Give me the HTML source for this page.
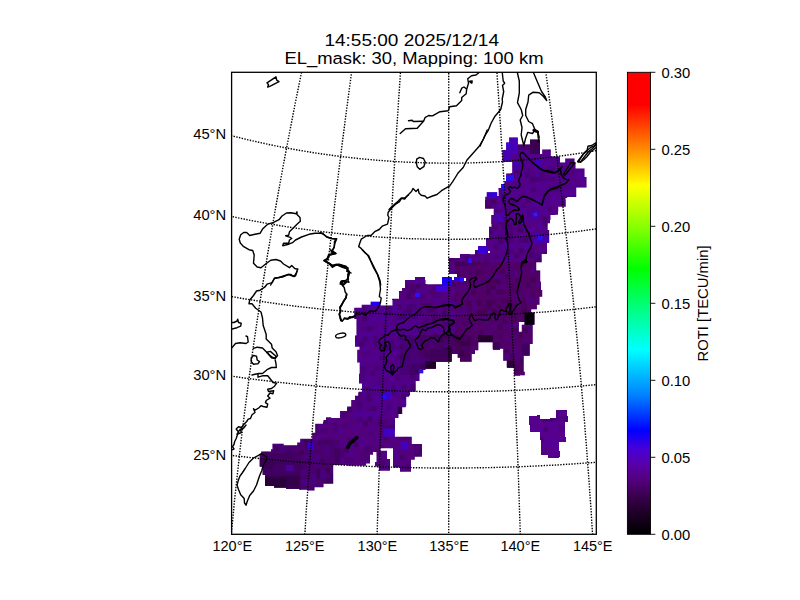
<!DOCTYPE html>
<html><head><meta charset="utf-8"><title>ROTI map</title>
<style>
html,body{margin:0;padding:0;background:#fff;}
body{width:800px;height:600px;overflow:hidden;font-family:"Liberation Sans",sans-serif;}
svg{display:block;}
text{font-family:"Liberation Sans",sans-serif;fill:#000;}
</style></head><body>
<svg width="800" height="600" viewBox="0 0 800 600">
<defs>
<clipPath id="ax"><rect x="231.6" y="72.3" width="364.69999999999993" height="461.99999999999994"/></clipPath>
<linearGradient id="cb" x1="0" y1="1" x2="0" y2="0">
<stop offset="0.000" stop-color="#000000"/>
<stop offset="0.040" stop-color="#1a0022"/>
<stop offset="0.080" stop-color="#38004a"/>
<stop offset="0.115" stop-color="#52007a"/>
<stop offset="0.150" stop-color="#5800a8"/>
<stop offset="0.185" stop-color="#4800d8"/>
<stop offset="0.225" stop-color="#0000ff"/>
<stop offset="0.300" stop-color="#0080ff"/>
<stop offset="0.400" stop-color="#00ffff"/>
<stop offset="0.500" stop-color="#00ff70"/>
<stop offset="0.575" stop-color="#00ff00"/>
<stop offset="0.660" stop-color="#80ff00"/>
<stop offset="0.755" stop-color="#ffff00"/>
<stop offset="0.830" stop-color="#ff9000"/>
<stop offset="0.930" stop-color="#ff0000"/>
<stop offset="1.000" stop-color="#ff0000"/>
</linearGradient>
</defs>
<rect width="800" height="600" fill="#fff"/>
<g clip-path="url(#ax)">
<g id="region"><clipPath id="rg"><path clip-rule="evenodd" d="M370.7,301.7 370.7,304.7 361.7,304.7 361.7,307.7 354.2,307.7 354.2,319.0 356.5,319.0 356.5,335.5 355.0,335.5 355.0,346.7 355.2,346.7 355.2,346.7 359.5,346.7 359.5,349.7 357.2,349.7 357.2,354.2 357.2,354.2 357.2,362.5 359.7,362.5 359.7,373.7 359.0,373.7 359.0,383.5 362.0,383.5 362.0,391.8 358.7,391.8 358.7,392.5 358.2,392.5 358.2,395.7 355.0,395.7 355.0,400.0 351.2,400.0 351.2,406.5 347.2,406.5 347.2,407.5 347.0,407.5 347.0,411.0 340.0,411.0 340.0,418.0 331.2,418.0 331.2,417.2 326.0,417.2 326.0,420.0 323.5,420.0 323.5,421.7 323.0,421.7 323.0,423.7 315.2,423.7 315.2,424.7 315.2,424.7 315.2,430.0 315.2,430.0 315.2,432.7 312.2,432.7 312.2,438.7 300.2,438.7 300.2,442.5 297.2,442.5 297.2,445.2 283.7,445.2 283.7,443.7 272.5,443.7 272.5,449.2 271.0,449.2 271.0,451.5 261.2,451.5 261.2,453.7 259.7,453.7 259.7,466.5 262.7,466.5 262.7,474.7 265.0,474.7 265.0,486.0 274.0,486.0 274.0,487.5 286.0,487.5 286.0,488.7 299.5,488.7 299.5,489.7 307.7,489.7 307.7,490.5 314.5,490.5 314.5,487.2 323.5,487.2 323.5,483.7 333.2,483.7 333.2,465.0 347.5,465.0 347.5,465.7 348.2,465.7 348.2,465.7 365.5,465.7 365.5,465.7 365.5,465.7 365.5,465.5 366.0,465.5 366.0,463.5 370.0,463.5 370.0,462.8 370.0,462.8 370.0,454.8 373.0,454.8 373.0,452.0 376.5,452.0 376.5,462.0 375.0,462.0 375.0,466.5 379.0,466.5 379.0,470.8 390.0,470.8 390.0,459.0 387.0,459.0 387.0,450.8 380.5,450.8 380.5,448.2 393.0,448.2 393.0,467.5 400.0,467.5 400.0,471.8 411.0,471.8 411.0,459.8 414.8,459.8 414.8,456.8 422.0,456.8 422.0,444.0 411.8,444.0 411.8,436.8 394.8,436.8 394.8,430.0 395.0,430.0 395.0,418.0 398.0,418.0 398.0,417.7 398.5,417.7 398.5,414.0 402.2,414.0 402.2,407.2 405.7,407.2 405.7,406.5 406.0,406.5 406.0,406.0 406.2,406.0 406.2,396.7 409.0,396.7 409.0,395.5 410.0,395.5 410.0,391.8 415.7,391.8 415.7,381.0 419.5,381.0 419.5,373.2 423.2,373.2 423.2,370.0 425.5,370.0 425.5,368.5 425.5,368.5 425.5,368.7 435.7,368.7 435.7,368.5 436.0,368.5 436.0,361.8 451.7,361.8 451.7,354.0 457.7,354.0 457.7,357.7 460.0,357.7 460.0,361.7 461.2,361.7 461.2,361.8 471.7,361.8 471.7,361.7 471.7,361.7 471.7,354.0 475.0,354.0 475.0,353.7 475.0,353.7 475.0,350.2 478.3,350.2 478.3,349.7 478.3,349.7 478.3,342.3 492.7,342.3 492.7,349.2 493.0,349.2 493.0,349.8 500.0,349.8 500.0,348.7 503.2,348.7 503.2,360.7 506.8,360.7 506.8,367.5 507.2,367.5 507.2,367.7 514.0,367.7 514.0,375.7 520.0,375.7 520.0,375.2 524.8,375.2 524.8,371.7 523.7,371.7 523.7,355.7 529.7,355.7 529.7,344.0 532.7,344.0 532.7,324.8 534.5,324.8 534.5,312.5 531.2,312.5 531.2,309.2 536.9,309.2 536.9,304.7 539.5,304.7 539.5,296.7 542.2,296.7 542.2,290.0 470.0,290.0 470.0,290.0 541.0,290.0 541.0,281.7 540.2,281.7 540.2,270.5 536.2,270.5 536.2,262.2 541.7,262.2 541.7,254.0 547.0,254.0 547.0,242.7 549.2,242.7 549.2,230.0 547.7,230.0 547.7,223.2 550.0,223.2 550.0,220.0 550.5,220.0 550.5,215.0 555.2,215.0 555.2,214.7 558.0,214.7 558.0,211.2 558.2,211.2 558.2,206.7 565.7,206.7 565.7,200.0 565.5,200.0 565.5,198.0 567.2,198.0 567.2,197.0 576.2,197.0 576.2,187.5 586.5,187.5 586.5,177.0 584.5,177.0 584.5,168.5 575.5,168.5 575.5,163.0 574.5,163.0 574.5,158.5 565.2,158.5 565.2,162.5 560.0,162.5 560.0,156.5 550.8,156.5 550.8,149.5 542.2,149.5 542.2,154.0 540.0,154.0 540.0,145.0 540.0,139.5 530.0,139.5 530.0,144.5 517.8,144.5 517.8,137.5 509.2,137.5 509.2,142.5 506.2,142.5 506.2,150.0 502.5,150.0 502.5,161.8 512.2,161.8 512.2,173.0 511.0,173.0 511.0,173.5 506.2,173.5 506.2,176.2 506.2,176.2 506.2,181.0 504.7,181.0 504.7,181.0 504.5,181.0 504.5,184.0 501.0,184.0 501.0,188.0 498.5,188.0 498.5,190.0 498.7,190.0 498.7,196.0 497.2,196.0 497.2,192.2 486.7,192.2 486.7,196.7 485.2,196.7 485.2,200.0 485.2,200.0 485.0,200.0 485.0,208.5 485.2,208.5 485.2,208.7 493.7,208.7 493.7,215.0 491.5,215.0 491.5,215.0 491.2,215.0 491.2,224.0 491.5,224.0 491.5,226.8 489.0,226.8 489.0,238.0 486.0,238.0 486.0,246.0 478.0,246.0 478.0,246.5 478.0,246.5 478.0,250.0 475.0,250.0 475.0,250.2 475.0,250.2 475.0,254.3 470.0,254.3 470.0,254.0 460.0,254.0 460.0,257.7 460.0,258.0 449.0,258.0 448.5,258.0 448.5,260.0 449.0,260.0 449.0,274.0 457.0,274.0 457.0,277.0 454.0,277.0 454.0,280.0 452.0,280.0 452.0,277.0 442.0,277.0 442.0,280.0 442.0,280.0 442.0,284.2 427.0,284.2 427.0,284.0 425.5,284.0 425.5,280.0 425.0,280.0 425.0,277.0 415.0,277.0 415.0,280.0 405.2,280.0 405.0,280.0 405.0,288.0 402.0,288.0 402.0,291.0 399.0,291.0 399.0,298.7 392.5,298.7 392.5,299.0 392.0,299.0 392.0,300.0 392.5,300.0 392.5,305.5 380.5,305.5 380.5,301.7Z M460.0,330.0 460.0,300.0 460.0,300.0 460.0,330.0Z M521.8,331.7 518.9,331.7 518.9,321.9 524.5,321.9 524.5,324.8 521.8,324.8Z M464.0,281.0 464.0,278.0 464.2,278.0 464.2,278.0 466.0,278.0 466.0,278.0 466.0,278.0 466.0,281.0Z M490.0,253.0 488.0,253.0 488.0,251.0 490.0,251.0Z M548.0,455.0 548.0,458.0 559.0,458.0 559.0,457.0 560.0,457.0 560.0,451.0 559.0,451.0 559.0,442.0 566.0,442.0 566.0,437.0 565.0,437.0 565.0,422.0 568.0,422.0 568.0,416.0 567.0,416.0 567.0,410.0 556.0,410.0 556.0,418.0 550.0,418.0 550.0,419.0 540.0,419.0 540.0,415.0 537.0,415.0 537.0,416.0 529.0,416.0 529.0,425.0 530.0,425.0 530.0,432.0 540.0,432.0 540.0,440.0 541.0,440.0 541.0,455.0Z"/></clipPath>
<path fill="#52007c" fill-rule="evenodd" d="M370.7,301.7 370.7,304.7 361.7,304.7 361.7,307.7 354.2,307.7 354.2,319.0 356.5,319.0 356.5,335.5 355.0,335.5 355.0,346.7 355.2,346.7 355.2,346.7 359.5,346.7 359.5,349.7 357.2,349.7 357.2,354.2 357.2,354.2 357.2,362.5 359.7,362.5 359.7,373.7 359.0,373.7 359.0,383.5 362.0,383.5 362.0,391.8 358.7,391.8 358.7,392.5 358.2,392.5 358.2,395.7 355.0,395.7 355.0,400.0 351.2,400.0 351.2,406.5 347.2,406.5 347.2,407.5 347.0,407.5 347.0,411.0 340.0,411.0 340.0,418.0 331.2,418.0 331.2,417.2 326.0,417.2 326.0,420.0 323.5,420.0 323.5,421.7 323.0,421.7 323.0,423.7 315.2,423.7 315.2,424.7 315.2,424.7 315.2,430.0 315.2,430.0 315.2,432.7 312.2,432.7 312.2,438.7 300.2,438.7 300.2,442.5 297.2,442.5 297.2,445.2 283.7,445.2 283.7,443.7 272.5,443.7 272.5,449.2 271.0,449.2 271.0,451.5 261.2,451.5 261.2,453.7 259.7,453.7 259.7,466.5 262.7,466.5 262.7,474.7 265.0,474.7 265.0,486.0 274.0,486.0 274.0,487.5 286.0,487.5 286.0,488.7 299.5,488.7 299.5,489.7 307.7,489.7 307.7,490.5 314.5,490.5 314.5,487.2 323.5,487.2 323.5,483.7 333.2,483.7 333.2,465.0 347.5,465.0 347.5,465.7 348.2,465.7 348.2,465.7 365.5,465.7 365.5,465.7 365.5,465.7 365.5,465.5 366.0,465.5 366.0,463.5 370.0,463.5 370.0,462.8 370.0,462.8 370.0,454.8 373.0,454.8 373.0,452.0 376.5,452.0 376.5,462.0 375.0,462.0 375.0,466.5 379.0,466.5 379.0,470.8 390.0,470.8 390.0,459.0 387.0,459.0 387.0,450.8 380.5,450.8 380.5,448.2 393.0,448.2 393.0,467.5 400.0,467.5 400.0,471.8 411.0,471.8 411.0,459.8 414.8,459.8 414.8,456.8 422.0,456.8 422.0,444.0 411.8,444.0 411.8,436.8 394.8,436.8 394.8,430.0 395.0,430.0 395.0,418.0 398.0,418.0 398.0,417.7 398.5,417.7 398.5,414.0 402.2,414.0 402.2,407.2 405.7,407.2 405.7,406.5 406.0,406.5 406.0,406.0 406.2,406.0 406.2,396.7 409.0,396.7 409.0,395.5 410.0,395.5 410.0,391.8 415.7,391.8 415.7,381.0 419.5,381.0 419.5,373.2 423.2,373.2 423.2,370.0 425.5,370.0 425.5,368.5 425.5,368.5 425.5,368.7 435.7,368.7 435.7,368.5 436.0,368.5 436.0,361.8 451.7,361.8 451.7,354.0 457.7,354.0 457.7,357.7 460.0,357.7 460.0,361.7 461.2,361.7 461.2,361.8 471.7,361.8 471.7,361.7 471.7,361.7 471.7,354.0 475.0,354.0 475.0,353.7 475.0,353.7 475.0,350.2 478.3,350.2 478.3,349.7 478.3,349.7 478.3,342.3 492.7,342.3 492.7,349.2 493.0,349.2 493.0,349.8 500.0,349.8 500.0,348.7 503.2,348.7 503.2,360.7 506.8,360.7 506.8,367.5 507.2,367.5 507.2,367.7 514.0,367.7 514.0,375.7 520.0,375.7 520.0,375.2 524.8,375.2 524.8,371.7 523.7,371.7 523.7,355.7 529.7,355.7 529.7,344.0 532.7,344.0 532.7,324.8 534.5,324.8 534.5,312.5 531.2,312.5 531.2,309.2 536.9,309.2 536.9,304.7 539.5,304.7 539.5,296.7 542.2,296.7 542.2,290.0 470.0,290.0 470.0,290.0 541.0,290.0 541.0,281.7 540.2,281.7 540.2,270.5 536.2,270.5 536.2,262.2 541.7,262.2 541.7,254.0 547.0,254.0 547.0,242.7 549.2,242.7 549.2,230.0 547.7,230.0 547.7,223.2 550.0,223.2 550.0,220.0 550.5,220.0 550.5,215.0 555.2,215.0 555.2,214.7 558.0,214.7 558.0,211.2 558.2,211.2 558.2,206.7 565.7,206.7 565.7,200.0 565.5,200.0 565.5,198.0 567.2,198.0 567.2,197.0 576.2,197.0 576.2,187.5 586.5,187.5 586.5,177.0 584.5,177.0 584.5,168.5 575.5,168.5 575.5,163.0 574.5,163.0 574.5,158.5 565.2,158.5 565.2,162.5 560.0,162.5 560.0,156.5 550.8,156.5 550.8,149.5 542.2,149.5 542.2,154.0 540.0,154.0 540.0,145.0 540.0,139.5 530.0,139.5 530.0,144.5 517.8,144.5 517.8,137.5 509.2,137.5 509.2,142.5 506.2,142.5 506.2,150.0 502.5,150.0 502.5,161.8 512.2,161.8 512.2,173.0 511.0,173.0 511.0,173.5 506.2,173.5 506.2,176.2 506.2,176.2 506.2,181.0 504.7,181.0 504.7,181.0 504.5,181.0 504.5,184.0 501.0,184.0 501.0,188.0 498.5,188.0 498.5,190.0 498.7,190.0 498.7,196.0 497.2,196.0 497.2,192.2 486.7,192.2 486.7,196.7 485.2,196.7 485.2,200.0 485.2,200.0 485.0,200.0 485.0,208.5 485.2,208.5 485.2,208.7 493.7,208.7 493.7,215.0 491.5,215.0 491.5,215.0 491.2,215.0 491.2,224.0 491.5,224.0 491.5,226.8 489.0,226.8 489.0,238.0 486.0,238.0 486.0,246.0 478.0,246.0 478.0,246.5 478.0,246.5 478.0,250.0 475.0,250.0 475.0,250.2 475.0,250.2 475.0,254.3 470.0,254.3 470.0,254.0 460.0,254.0 460.0,257.7 460.0,258.0 449.0,258.0 448.5,258.0 448.5,260.0 449.0,260.0 449.0,274.0 457.0,274.0 457.0,277.0 454.0,277.0 454.0,280.0 452.0,280.0 452.0,277.0 442.0,277.0 442.0,280.0 442.0,280.0 442.0,284.2 427.0,284.2 427.0,284.0 425.5,284.0 425.5,280.0 425.0,280.0 425.0,277.0 415.0,277.0 415.0,280.0 405.2,280.0 405.0,280.0 405.0,288.0 402.0,288.0 402.0,291.0 399.0,291.0 399.0,298.7 392.5,298.7 392.5,299.0 392.0,299.0 392.0,300.0 392.5,300.0 392.5,305.5 380.5,305.5 380.5,301.7Z M460.0,330.0 460.0,300.0 460.0,300.0 460.0,330.0Z M521.8,331.7 518.9,331.7 518.9,321.9 524.5,321.9 524.5,324.8 521.8,324.8Z M464.0,281.0 464.0,278.0 464.2,278.0 464.2,278.0 466.0,278.0 466.0,278.0 466.0,278.0 466.0,281.0Z M490.0,253.0 488.0,253.0 488.0,251.0 490.0,251.0Z M548.0,455.0 548.0,458.0 559.0,458.0 559.0,457.0 560.0,457.0 560.0,451.0 559.0,451.0 559.0,442.0 566.0,442.0 566.0,437.0 565.0,437.0 565.0,422.0 568.0,422.0 568.0,416.0 567.0,416.0 567.0,410.0 556.0,410.0 556.0,418.0 550.0,418.0 550.0,419.0 540.0,419.0 540.0,415.0 537.0,415.0 537.0,416.0 529.0,416.0 529.0,425.0 530.0,425.0 530.0,432.0 540.0,432.0 540.0,440.0 541.0,440.0 541.0,455.0Z"/>
<pattern id="nz" width="80" height="80" patternUnits="userSpaceOnUse" patternTransform="rotate(-3)"><rect x="0" y="0" width="5" height="5" fill="#4000e0" fill-opacity="0.06"/><rect x="0" y="10" width="5" height="5" fill="#000" fill-opacity="0.12"/><rect x="0" y="15" width="5" height="5" fill="#4000e0" fill-opacity="0.05"/><rect x="0" y="20" width="5" height="5" fill="#4000e0" fill-opacity="0.05"/><rect x="0" y="25" width="5" height="5" fill="#4000e0" fill-opacity="0.05"/><rect x="0" y="30" width="5" height="5" fill="#000" fill-opacity="0.11"/><rect x="0" y="40" width="5" height="5" fill="#000" fill-opacity="0.08"/><rect x="0" y="60" width="5" height="5" fill="#4000e0" fill-opacity="0.18"/><rect x="0" y="65" width="5" height="5" fill="#000" fill-opacity="0.16"/><rect x="0" y="70" width="5" height="5" fill="#4000e0" fill-opacity="0.06"/><rect x="0" y="75" width="5" height="5" fill="#000" fill-opacity="0.09"/><rect x="5" y="5" width="5" height="5" fill="#000" fill-opacity="0.13"/><rect x="5" y="15" width="5" height="5" fill="#4000e0" fill-opacity="0.12"/><rect x="5" y="20" width="5" height="5" fill="#000" fill-opacity="0.06"/><rect x="5" y="25" width="5" height="5" fill="#000" fill-opacity="0.14"/><rect x="5" y="30" width="5" height="5" fill="#4000e0" fill-opacity="0.08"/><rect x="5" y="40" width="5" height="5" fill="#4000e0" fill-opacity="0.08"/><rect x="5" y="55" width="5" height="5" fill="#000" fill-opacity="0.12"/><rect x="5" y="60" width="5" height="5" fill="#4000e0" fill-opacity="0.16"/><rect x="5" y="70" width="5" height="5" fill="#4000e0" fill-opacity="0.18"/><rect x="5" y="75" width="5" height="5" fill="#000" fill-opacity="0.10"/><rect x="10" y="5" width="5" height="5" fill="#000" fill-opacity="0.11"/><rect x="10" y="10" width="5" height="5" fill="#000" fill-opacity="0.14"/><rect x="10" y="30" width="5" height="5" fill="#4000e0" fill-opacity="0.14"/><rect x="10" y="45" width="5" height="5" fill="#4000e0" fill-opacity="0.16"/><rect x="10" y="55" width="5" height="5" fill="#4000e0" fill-opacity="0.13"/><rect x="10" y="60" width="5" height="5" fill="#000" fill-opacity="0.14"/><rect x="15" y="0" width="5" height="5" fill="#4000e0" fill-opacity="0.09"/><rect x="15" y="10" width="5" height="5" fill="#000" fill-opacity="0.11"/><rect x="15" y="15" width="5" height="5" fill="#000" fill-opacity="0.07"/><rect x="15" y="20" width="5" height="5" fill="#000" fill-opacity="0.15"/><rect x="15" y="25" width="5" height="5" fill="#000" fill-opacity="0.08"/><rect x="15" y="30" width="5" height="5" fill="#4000e0" fill-opacity="0.16"/><rect x="15" y="35" width="5" height="5" fill="#000" fill-opacity="0.11"/><rect x="15" y="40" width="5" height="5" fill="#4000e0" fill-opacity="0.16"/><rect x="15" y="55" width="5" height="5" fill="#4000e0" fill-opacity="0.10"/><rect x="15" y="60" width="5" height="5" fill="#4000e0" fill-opacity="0.16"/><rect x="15" y="70" width="5" height="5" fill="#000" fill-opacity="0.07"/><rect x="15" y="75" width="5" height="5" fill="#000" fill-opacity="0.08"/><rect x="20" y="0" width="5" height="5" fill="#4000e0" fill-opacity="0.12"/><rect x="20" y="5" width="5" height="5" fill="#4000e0" fill-opacity="0.04"/><rect x="20" y="10" width="5" height="5" fill="#4000e0" fill-opacity="0.09"/><rect x="20" y="30" width="5" height="5" fill="#4000e0" fill-opacity="0.13"/><rect x="20" y="40" width="5" height="5" fill="#000" fill-opacity="0.17"/><rect x="20" y="60" width="5" height="5" fill="#4000e0" fill-opacity="0.10"/><rect x="20" y="65" width="5" height="5" fill="#000" fill-opacity="0.13"/><rect x="20" y="70" width="5" height="5" fill="#000" fill-opacity="0.06"/><rect x="20" y="75" width="5" height="5" fill="#000" fill-opacity="0.07"/><rect x="25" y="0" width="5" height="5" fill="#4000e0" fill-opacity="0.05"/><rect x="25" y="5" width="5" height="5" fill="#000" fill-opacity="0.07"/><rect x="25" y="10" width="5" height="5" fill="#000" fill-opacity="0.10"/><rect x="25" y="15" width="5" height="5" fill="#000" fill-opacity="0.16"/><rect x="25" y="25" width="5" height="5" fill="#000" fill-opacity="0.08"/><rect x="25" y="30" width="5" height="5" fill="#4000e0" fill-opacity="0.09"/><rect x="25" y="35" width="5" height="5" fill="#000" fill-opacity="0.16"/><rect x="25" y="45" width="5" height="5" fill="#4000e0" fill-opacity="0.11"/><rect x="25" y="50" width="5" height="5" fill="#000" fill-opacity="0.06"/><rect x="25" y="55" width="5" height="5" fill="#4000e0" fill-opacity="0.08"/><rect x="25" y="65" width="5" height="5" fill="#000" fill-opacity="0.05"/><rect x="25" y="75" width="5" height="5" fill="#4000e0" fill-opacity="0.06"/><rect x="30" y="0" width="5" height="5" fill="#4000e0" fill-opacity="0.04"/><rect x="30" y="5" width="5" height="5" fill="#4000e0" fill-opacity="0.18"/><rect x="30" y="20" width="5" height="5" fill="#4000e0" fill-opacity="0.09"/><rect x="30" y="25" width="5" height="5" fill="#000" fill-opacity="0.15"/><rect x="30" y="30" width="5" height="5" fill="#4000e0" fill-opacity="0.15"/><rect x="30" y="35" width="5" height="5" fill="#4000e0" fill-opacity="0.07"/><rect x="30" y="70" width="5" height="5" fill="#000" fill-opacity="0.12"/><rect x="30" y="75" width="5" height="5" fill="#4000e0" fill-opacity="0.04"/><rect x="35" y="0" width="5" height="5" fill="#000" fill-opacity="0.09"/><rect x="35" y="5" width="5" height="5" fill="#4000e0" fill-opacity="0.14"/><rect x="35" y="15" width="5" height="5" fill="#4000e0" fill-opacity="0.17"/><rect x="35" y="30" width="5" height="5" fill="#4000e0" fill-opacity="0.07"/><rect x="35" y="35" width="5" height="5" fill="#000" fill-opacity="0.08"/><rect x="35" y="40" width="5" height="5" fill="#000" fill-opacity="0.13"/><rect x="35" y="55" width="5" height="5" fill="#4000e0" fill-opacity="0.13"/><rect x="35" y="65" width="5" height="5" fill="#000" fill-opacity="0.14"/><rect x="40" y="5" width="5" height="5" fill="#4000e0" fill-opacity="0.06"/><rect x="40" y="15" width="5" height="5" fill="#4000e0" fill-opacity="0.15"/><rect x="40" y="25" width="5" height="5" fill="#4000e0" fill-opacity="0.10"/><rect x="40" y="40" width="5" height="5" fill="#000" fill-opacity="0.07"/><rect x="40" y="45" width="5" height="5" fill="#000" fill-opacity="0.17"/><rect x="40" y="55" width="5" height="5" fill="#000" fill-opacity="0.16"/><rect x="40" y="70" width="5" height="5" fill="#4000e0" fill-opacity="0.12"/><rect x="40" y="75" width="5" height="5" fill="#000" fill-opacity="0.05"/><rect x="45" y="10" width="5" height="5" fill="#4000e0" fill-opacity="0.17"/><rect x="45" y="15" width="5" height="5" fill="#4000e0" fill-opacity="0.16"/><rect x="45" y="25" width="5" height="5" fill="#000" fill-opacity="0.08"/><rect x="45" y="30" width="5" height="5" fill="#4000e0" fill-opacity="0.07"/><rect x="45" y="40" width="5" height="5" fill="#4000e0" fill-opacity="0.10"/><rect x="45" y="45" width="5" height="5" fill="#000" fill-opacity="0.17"/><rect x="45" y="50" width="5" height="5" fill="#4000e0" fill-opacity="0.10"/><rect x="45" y="65" width="5" height="5" fill="#4000e0" fill-opacity="0.17"/><rect x="45" y="70" width="5" height="5" fill="#4000e0" fill-opacity="0.11"/><rect x="45" y="75" width="5" height="5" fill="#4000e0" fill-opacity="0.04"/><rect x="50" y="0" width="5" height="5" fill="#4000e0" fill-opacity="0.07"/><rect x="50" y="5" width="5" height="5" fill="#000" fill-opacity="0.15"/><rect x="50" y="10" width="5" height="5" fill="#000" fill-opacity="0.11"/><rect x="50" y="25" width="5" height="5" fill="#4000e0" fill-opacity="0.11"/><rect x="50" y="40" width="5" height="5" fill="#000" fill-opacity="0.12"/><rect x="50" y="45" width="5" height="5" fill="#000" fill-opacity="0.09"/><rect x="50" y="55" width="5" height="5" fill="#4000e0" fill-opacity="0.12"/><rect x="50" y="70" width="5" height="5" fill="#4000e0" fill-opacity="0.13"/><rect x="50" y="75" width="5" height="5" fill="#4000e0" fill-opacity="0.11"/><rect x="55" y="5" width="5" height="5" fill="#4000e0" fill-opacity="0.11"/><rect x="55" y="10" width="5" height="5" fill="#4000e0" fill-opacity="0.17"/><rect x="55" y="30" width="5" height="5" fill="#4000e0" fill-opacity="0.12"/><rect x="55" y="45" width="5" height="5" fill="#000" fill-opacity="0.07"/><rect x="55" y="50" width="5" height="5" fill="#4000e0" fill-opacity="0.05"/><rect x="55" y="55" width="5" height="5" fill="#000" fill-opacity="0.06"/><rect x="55" y="75" width="5" height="5" fill="#000" fill-opacity="0.14"/><rect x="60" y="5" width="5" height="5" fill="#000" fill-opacity="0.16"/><rect x="60" y="15" width="5" height="5" fill="#000" fill-opacity="0.17"/><rect x="60" y="20" width="5" height="5" fill="#4000e0" fill-opacity="0.11"/><rect x="60" y="35" width="5" height="5" fill="#000" fill-opacity="0.11"/><rect x="60" y="40" width="5" height="5" fill="#4000e0" fill-opacity="0.09"/><rect x="60" y="45" width="5" height="5" fill="#000" fill-opacity="0.09"/><rect x="60" y="55" width="5" height="5" fill="#000" fill-opacity="0.12"/><rect x="60" y="60" width="5" height="5" fill="#4000e0" fill-opacity="0.04"/><rect x="60" y="65" width="5" height="5" fill="#4000e0" fill-opacity="0.13"/><rect x="60" y="70" width="5" height="5" fill="#4000e0" fill-opacity="0.05"/><rect x="65" y="10" width="5" height="5" fill="#000" fill-opacity="0.08"/><rect x="65" y="15" width="5" height="5" fill="#000" fill-opacity="0.15"/><rect x="65" y="20" width="5" height="5" fill="#4000e0" fill-opacity="0.06"/><rect x="65" y="25" width="5" height="5" fill="#4000e0" fill-opacity="0.17"/><rect x="65" y="35" width="5" height="5" fill="#4000e0" fill-opacity="0.06"/><rect x="65" y="55" width="5" height="5" fill="#000" fill-opacity="0.06"/><rect x="65" y="65" width="5" height="5" fill="#4000e0" fill-opacity="0.05"/><rect x="70" y="5" width="5" height="5" fill="#000" fill-opacity="0.16"/><rect x="70" y="10" width="5" height="5" fill="#000" fill-opacity="0.16"/><rect x="70" y="15" width="5" height="5" fill="#4000e0" fill-opacity="0.09"/><rect x="70" y="30" width="5" height="5" fill="#4000e0" fill-opacity="0.06"/><rect x="70" y="35" width="5" height="5" fill="#4000e0" fill-opacity="0.07"/><rect x="70" y="40" width="5" height="5" fill="#000" fill-opacity="0.07"/><rect x="70" y="45" width="5" height="5" fill="#000" fill-opacity="0.08"/><rect x="70" y="50" width="5" height="5" fill="#4000e0" fill-opacity="0.08"/><rect x="70" y="60" width="5" height="5" fill="#4000e0" fill-opacity="0.11"/><rect x="70" y="65" width="5" height="5" fill="#000" fill-opacity="0.10"/><rect x="70" y="70" width="5" height="5" fill="#000" fill-opacity="0.08"/><rect x="70" y="75" width="5" height="5" fill="#000" fill-opacity="0.15"/><rect x="75" y="5" width="5" height="5" fill="#000" fill-opacity="0.11"/><rect x="75" y="15" width="5" height="5" fill="#000" fill-opacity="0.16"/><rect x="75" y="20" width="5" height="5" fill="#4000e0" fill-opacity="0.11"/><rect x="75" y="30" width="5" height="5" fill="#4000e0" fill-opacity="0.11"/><rect x="75" y="45" width="5" height="5" fill="#4000e0" fill-opacity="0.16"/><rect x="75" y="60" width="5" height="5" fill="#4000e0" fill-opacity="0.09"/><rect x="75" y="65" width="5" height="5" fill="#000" fill-opacity="0.07"/><rect x="75" y="70" width="5" height="5" fill="#000" fill-opacity="0.15"/><rect x="75" y="75" width="5" height="5" fill="#4000e0" fill-opacity="0.06"/></pattern>
<g clip-path="url(#rg)">
<rect x="526.0" y="406.0" width="46.0" height="56.0" fill="#6200b0" fill-opacity="0.30"/>
<rect x="455.0" y="262.0" width="90.0" height="118.0" fill="#50003c" fill-opacity="0.30"/>
<rect x="400.0" y="335.0" width="70.0" height="40.0" fill="#30002c" fill-opacity="0.28"/>
<rect x="355.0" y="300.0" width="65.0" height="120.0" fill="#5000c8" fill-opacity="0.14"/>
<rect x="497.0" y="138.0" width="93.0" height="77.0" fill="#5a00c0" fill-opacity="0.20"/>
<rect x="462.0" y="215.0" width="83.0" height="47.0" fill="#5a00b8" fill-opacity="0.12"/>
<rect x="258.0" y="440.0" width="82.0" height="52.0" fill="#2a0030" fill-opacity="0.20"/>
<rect x="231" y="72" width="365" height="462" fill="url(#nz)"/>
<rect x="524.5" y="312.5" width="10.0" height="12.3" fill="#040006"/>
<rect x="442.0" y="277.0" width="10.0" height="8.0" fill="#1c00f5"/>
<rect x="454.0" y="277.0" width="10.0" height="4.5" fill="#3000d8"/>
<rect x="415.0" y="293.0" width="5.0" height="4.0" fill="#2a10f0"/>
<rect x="502.5" y="150.0" width="9.7" height="11.8" fill="#4500b0"/>
<rect x="506.2" y="142.5" width="11.6" height="10.5" fill="#4600b6"/>
<rect x="509.2" y="137.5" width="8.6" height="7.0" fill="#4800b8"/>
<rect x="506.2" y="142.5" width="3.0" height="2.5" fill="#2a10ff"/>
<rect x="530.0" y="139.5" width="10.0" height="14.5" fill="#3a0052"/>
<rect x="517.8" y="144.5" width="12.2" height="5.5" fill="#470068"/>
<rect x="506.2" y="176.2" width="4.8" height="4.8" fill="#2400ee"/>
<rect x="511.0" y="173.0" width="3.0" height="7.0" fill="#3a00d0"/>
<rect x="501.0" y="184.0" width="3.5" height="5.0" fill="#1a10ff"/>
<rect x="513.0" y="162.0" width="7.0" height="8.0" fill="#4400a8"/>
<rect x="536.0" y="159.0" width="6.0" height="11.0" fill="#4200b8"/>
<rect x="487.0" y="192.2" width="10.0" height="4.3" fill="#2a00e8"/>
<rect x="501.0" y="184.0" width="3.5" height="4.5" fill="#2010f8"/>
<rect x="506.2" y="175.0" width="7.8" height="5.5" fill="#2a10f0"/>
<rect x="534.0" y="212.5" width="3.0" height="4.0" fill="#2800f0"/>
<rect x="530.0" y="209.0" width="10.0" height="11.0" fill="#4a009c"/>
<rect x="478.0" y="246.5" width="9.0" height="7.5" fill="#3a00d8"/>
<rect x="468.2" y="258.5" width="3.7" height="4.5" fill="#2a10ff"/>
<rect x="460.0" y="278.0" width="4.2" height="3.7" fill="#2a10ff"/>
<rect x="533.5" y="212.7" width="3.7" height="3.7" fill="#2a20ff"/>
<rect x="533.5" y="234.5" width="15.7" height="9.0" fill="#4800a8"/>
<rect x="538.0" y="235.2" width="4.5" height="5.2" fill="#2a10f0"/>
<rect x="494.5" y="212.7" width="9.0" height="9.7" fill="#4a00a8"/>
<rect x="370.7" y="301.7" width="9.7" height="3.7" fill="#1c00f5"/>
<rect x="415.0" y="292.7" width="5.2" height="4.5" fill="#2a10ff"/>
<rect x="436.0" y="286.0" width="12.0" height="6.0" fill="#4000d0"/>
<rect x="425.5" y="361.0" width="10.5" height="7.5" fill="#1c0028"/>
<rect x="443.5" y="347.5" width="8.2" height="14.2" fill="#300045"/>
<rect x="430.0" y="355.0" width="13.5" height="6.7" fill="#3a0055"/>
<rect x="425.5" y="361.8" width="10.2" height="6.9" fill="#22002e"/>
<rect x="478.0" y="335.2" width="15.0" height="7.0" fill="#2a003a"/>
<rect x="493.0" y="342.3" width="7.0" height="7.5" fill="#3a0052"/>
<rect x="506.8" y="360.7" width="7.2" height="6.7" fill="#2a003a"/>
<rect x="448.0" y="346.5" width="3.7" height="15.3" fill="#30003f"/>
<rect x="430.0" y="349.5" width="18.0" height="12.3" fill="#3f005c"/>
<rect x="418.7" y="369.0" width="4.5" height="4.2" fill="#3010e8"/>
<rect x="478.3" y="335.0" width="14.4" height="6.7" fill="#25002f"/>
<rect x="507.2" y="360.5" width="7.0" height="7.2" fill="#2a003a"/>
<rect x="522.2" y="344.0" width="7.5" height="11.7" fill="#3f0060"/>
<rect x="386.0" y="391.7" width="6.0" height="7.5" fill="#4000c8"/>
<rect x="382.2" y="394.7" width="3.7" height="4.5" fill="#2010ff"/>
<rect x="385.7" y="391.5" width="6.0" height="7.5" fill="#4000c8"/>
<rect x="382.7" y="394.5" width="3.0" height="4.5" fill="#1a10ff"/>
<rect x="383.5" y="428.2" width="11.2" height="8.5" fill="#4200c0"/>
<rect x="397.7" y="406.8" width="4.0" height="7.2" fill="#2a0038"/>
<rect x="400.7" y="441.0" width="6.7" height="8.2" fill="#4400c0"/>
<rect x="259.7" y="453.7" width="41.2" height="36.7" fill="#410061"/>
<rect x="307.7" y="442.5" width="6.0" height="6.7" fill="#3800d0"/>
<rect x="265.0" y="476.2" width="34.5" height="13.0" fill="#330049"/>
<rect x="265.0" y="478.5" width="21.0" height="9.0" fill="#2a003a"/>
<rect x="259.7" y="459.7" width="14.2" height="9.7" fill="#3a0055"/>
<rect x="286.0" y="465.0" width="7.5" height="6.0" fill="#4a0098"/>
</g></g>
<g id="coast" fill="none" stroke="#000" stroke-width="1.4" stroke-linejoin="round" stroke-linecap="round"><path d="M267.0,82.8 276.0,76.8 276.7,80.2 279.0,81.7 270.3,86.2 267.7,87.0 268.5,84.7Z"/>
<path d="M400.2,133.5 405.5,128.7 417.2,128.2 421.7,123.3 423.8,120.7 425.0,117.7 428.7,115.5 432.5,115.9 440.0,111.7 448.2,110.7 449.7,106.8 456.5,105.7 461.7,100.5 461.7,97.5 466.2,93.7 466.7,89.2 468.5,83.2 467.7,78.7 471.5,75.7 476.0,75.0 479.7,72.0"/>
<path d="M408.5,120.7 412.2,120.3 413.3,121.5 423.5,121.2"/>
<path d="M459.8,92.7 461.7,88.2 464.0,87.0 466.2,88.8"/>
<path d="M469.7,81.3 472.2,81.0 471.8,83.2 470.0,82.2"/>
<path d="M502.2,72.0 503.2,81.0 504.7,83.2 502.5,85.5 503.7,91.5 502.2,99.0 502.5,102.0 500.7,109.5 495.0,116.2 491.2,123.0 488.2,130.5 484.5,136.5 480.0,146.2"/>
<path d="M517.2,72.0 519.3,81.0 519.3,93.0 517.5,102.7 521.2,109.5 522.7,115.5 520.2,120.0 522.0,127.5 521.2,135.0 523.8,145.5 525.7,138.0 527.7,132.4 532.5,133.5 534.0,131.2 537.7,131.7 539.2,137.2 538.2,141.7"/>
<path d="M538.2,138.0 537.7,131.7 534.7,129.0 532.5,123.7 528.7,121.5 525.7,115.5 525.7,109.5 528.0,102.0 528.7,95.2 533.2,92.2 539.2,92.7 543.0,96.0 546.7,100.5 545.2,96.7 541.5,91.5 537.0,81.0 533.2,72.0"/>
<path d="M578.2,162.0 583.5,153.7 587.2,150.0 588.0,146.2 591.7,145.5 596.2,142.5 596.2,144.7 592.5,148.5 588.7,151.5 585.0,156.0 580.5,162.0"/>
<path d="M416.7,159.2 419.7,157.4 423.5,158.5 425.3,162.2 423.8,166.7 419.7,169.3 417.2,166.7 416.3,163.0Z"/>
<path d="M487.2,130.0 483.5,139.0 479.0,146.5 473.0,153.2 467.0,160.0 463.2,167.5 458.3,172.7 455.0,178.0 452.7,181.7 449.7,185.8 441.5,190.7 437.0,194.5 432.5,196.0 427.2,198.2 425.0,196.0 421.2,195.2 419.0,193.0 418.2,189.2 416.0,191.5 413.0,188.5 411.5,191.5 407.0,196.0 404.7,199.0 401.0,198.2 398.0,201.2 392.0,206.5 389.0,209.5"/>
<path d="M297.7,269.2 294.7,268.5 291.7,265.5 289.5,267.7 283.5,264.0 280.5,261.0 276.0,259.5 270.7,260.2 264.7,264.7 261.0,267.7 257.2,267.0 253.5,263.2 254.2,255.0 252.7,250.5 249.0,249.7 243.7,246.7 240.3,243.0 239.2,239.2 240.7,234.7 243.7,232.5 246.7,232.5 249.7,235.5 255.0,234.3 260.2,233.2 262.8,228.7 267.7,224.2 273.7,222.4 279.0,219.7 282.0,216.0 286.5,213.0 291.0,212.7 296.2,213.7 297.0,211.8 297.0,214.5 300.0,217.5 300.3,221.2 297.0,224.2 292.5,228.7 289.5,231.7 288.7,235.2 285.7,235.8 290.2,237.3 291.7,238.5 289.5,240.0 288.7,243.0 283.5,243.3 282.7,245.7 288.7,244.2 292.5,242.7 295.5,240.0 301.5,237.0 309.0,234.3 315.0,233.2 322.5,233.2 327.0,237.0 331.5,238.5 336.7,238.8 334.5,241.5 334.2,246.7 331.8,252.0 336.0,253.5 329.2,255.0 327.0,259.5 324.0,260.7 328.5,263.2 333.0,265.5 336.0,264.3 342.0,267.0 346.5,268.5 348.7,271.5 351.0,273.0"/>
<path d="M297.7,269.2 296.2,273.0 294.0,276.7 291.0,274.5 288.0,274.5 283.5,276.7 279.0,277.5 274.5,278.2 272.2,282.0 270.7,285.0"/>
<path d="M408.5,195.0 404.7,198.0 401.7,198.0 399.5,201.7 395.0,204.7 391.2,208.5 388.2,212.2 387.8,215.2 389.0,217.5 387.5,224.2 382.2,226.2 379.2,229.5 374.7,231.7 371.0,235.5 367.2,235.5 361.2,239.2 359.3,244.5 358.7,246.7 360.5,247.8 365.0,252.7 368.7,255.7 371.0,261.0 374.0,267.0 377.7,274.5 380.0,280.5 380.7,285.0"/>
<path d="M320.0,232.5 323.0,234.0 326.7,237.0 332.0,238.5 336.5,239.2 335.0,243.0 334.2,247.5 331.2,252.0 335.7,253.5 329.7,255.0 327.5,259.5 324.5,260.7 329.0,263.2 332.7,265.5 336.5,264.3 342.5,267.0 347.0,268.5 349.2,271.5 347.7,274.5 348.5,279.0 345.5,280.5 341.0,281.2 340.2,284.2"/>
<path d="M297.0,271.5 295.5,276.0 292.5,276.0 288.7,274.5 283.5,276.0 279.0,277.5 274.5,278.2 272.2,282.7 267.0,284.2 264.7,287.2 260.2,290.2 256.5,291.0 253.5,295.5 249.7,300.0 249.0,303.7 252.0,303.7 255.7,308.2 261.0,312.0 262.5,318.0 263.2,325.5 266.2,334.5 266.2,339.0 271.5,344.2 272.2,348.0 276.0,351.7 277.5,355.5 275.2,358.5 271.5,357.7 267.7,353.2 264.7,350.2 262.5,348.0 257.2,347.2 253.5,348.3"/>
<path d="M266.7,352.2 270.3,351.4 276.0,356.2 274.8,358.5 270.7,356.2Z"/>
<path d="M231.0,322.5 234.0,322.5 237.0,321.0 237.7,319.2 238.5,322.5 241.2,323.2 240.7,326.2 237.0,327.7 234.0,328.5 231.0,329.2"/>
<path d="M231.0,348.7 235.5,343.5 240.0,342.7 246.0,343.5 248.2,342.0 247.5,336.7 246.0,336.0"/>
<path d="M275.2,360.0 276.0,363.7 276.3,367.5 271.5,367.5 267.0,369.7 262.5,373.5 258.7,373.5 255.0,374.2 252.0,375.0"/>
<path d="M258.0,374.2 258.0,377.2 263.2,375.7 267.7,375.7 270.7,379.5 273.0,382.5 276.7,383.2 274.5,386.2 271.5,388.5 267.7,389.2 268.5,391.5 273.7,390.7 273.0,393.7 270.0,393.0 267.7,396.0 270.0,398.2 266.2,400.5 265.5,402.7 267.7,404.2 267.0,407.2 263.2,406.5 261.0,405.7 258.7,408.0 255.0,410.2 253.5,408.7 255.0,412.5 252.0,414.7 250.5,418.5 248.2,419.2 246.7,421.5 243.7,424.5 241.5,427.5 238.5,426.7 236.2,429.0 238.5,432.0 237.0,434.2 239.2,430.5 242.2,429.7"/>
<path d="M251.2,357.7 253.5,355.5 256.5,356.2 257.2,360.0 259.5,361.5 258.0,363.7 253.5,364.2 251.2,361.5Z"/>
<path d="M246.0,425.0 243.7,428.0 240.0,429.5 241.5,432.5 237.7,434.0 236.2,438.5 234.7,441.5 234.0,444.5 232.5,446.7 234.0,449.0 232.5,449.7"/>
<path d="M261.7,453.5 264.7,455.7 267.0,457.2 265.8,461.0 263.2,465.5 261.7,470.7 259.5,476.0 256.5,485.0 253.5,491.0 249.7,495.5 247.2,501.5 246.0,505.2 244.5,503.0 244.2,498.5 240.7,494.7 238.5,489.5 237.0,485.0 238.5,479.7 240.0,476.0 242.2,473.0 245.2,468.5 249.0,462.5 253.5,458.0 258.0,455.7Z"/>
<path d="M362.5,250.0 367.7,255.2 370.7,261.2 373.7,268.0 377.5,274.7 379.7,281.5 380.5,289.0 379.3,296.5 381.2,298.0 380.5,302.5 378.2,307.7 376.0,310.7 373.0,311.5 370.0,310.7 367.7,313.0 365.5,315.2 361.7,313.0 359.5,314.5 356.5,313.7 355.0,316.0 352.7,317.5 349.7,316.7 347.5,319.0 344.5,318.2 342.2,321.2 340.7,320.5 340.0,316.7 339.2,313.7 340.7,310.7 340.0,307.0 342.2,304.0 343.7,301.0 346.0,298.0 346.7,294.2 345.2,292.0 344.2,287.5 342.2,285.2 340.7,283.0 342.2,280.7 345.2,281.5 349.0,282.2 347.5,279.2 348.2,275.5 349.7,272.5 346.7,271.0 348.2,268.0 346.0,266.5 342.2,265.7 338.5,264.2 335.5,265.0 332.5,267.2 330.2,264.2 327.2,262.7 324.2,260.5 327.2,258.2 328.7,254.5 332.5,253.7 335.5,253.0 332.5,250.7 330.2,250.0"/>
<path d="M460.0,306.0 455.5,306.7 451.7,305.2 448.0,304.5 443.5,306.0 439.0,306.7 434.5,307.5 430.0,306.7 425.5,306.7 421.0,308.2 418.0,311.2 415.0,314.2 410.5,316.5 406.7,319.5 403.7,322.5 398.5,324.0 396.7,326.2 396.7,329.2 400.0,330.0 403.7,329.2 407.5,330.7 411.2,329.2 413.5,327.0 415.7,325.5 418.0,327.7 421.0,327.0 424.7,325.5 428.5,324.0 431.5,323.2 434.5,322.5 436.0,321.0 439.0,320.2 443.5,318.7 447.2,318.7 450.2,320.2 453.2,321.0 454.0,322.5 451.7,324.7 449.5,325.5 448.7,329.2 451.0,333.7 454.0,336.7 457.0,338.2 460.0,339.3"/>
<path d="M396.7,329.2 394.0,330.7 391.0,331.5 388.0,335.2 385.0,335.2 382.0,338.2 379.3,339.7 379.0,342.7 381.2,345.0 379.7,348.0 381.2,351.0 385.0,350.2 384.2,348.0 386.5,345.7 385.0,343.5 385.7,342.0 388.7,341.7 390.2,345.0 389.8,349.5 391.0,351.7 388.0,354.7 386.2,357.7 386.8,361.5 385.7,364.5 384.2,366.7 386.2,370.5 389.5,372.0 392.5,375.0 394.7,372.0 397.0,370.5 397.7,368.2 402.2,366.7 403.7,360.0 405.2,354.0 407.5,350.2 409.7,348.0 410.5,345.0 409.3,343.5 408.2,340.5 405.2,339.7 406.0,336.7 403.7,335.2 400.7,336.0 398.5,333.7 397.0,331.5Z"/>
<path d="M392.5,374.2 391.0,370.5 390.7,366.7 392.5,364.5 394.0,366.7 393.2,370.5Z"/>
<path d="M415.0,339.7 418.0,337.5 419.5,335.2 421.0,331.5 422.5,329.2 425.5,330.7 428.5,327.7 431.5,327.7 434.5,326.2 437.5,324.7 441.2,325.5 443.5,327.7 444.2,331.5 445.0,333.7 442.0,335.2 439.7,338.2 438.2,342.0 434.5,338.2 430.7,337.5 428.5,339.7 424.7,341.2 421.7,345.0 423.2,348.0 421.0,349.5 418.3,348.7 417.2,345.0 415.7,342.0Z"/>
<path d="M440.0,306.5 444.5,305.0 449.0,305.7 452.7,305.0 455.0,308.0 458.7,305.7 462.5,304.2 461.7,300.5 464.0,296.7 467.7,292.2 470.0,287.7 470.7,284.0 469.2,281.0 471.5,278.7 476.0,277.2 476.7,278.7 473.7,281.7 473.7,285.5 475.2,287.7 479.0,285.5 483.5,284.0 488.0,281.7 491.7,278.0 494.7,273.5 497.0,269.7 500.0,266.7 502.2,263.0 503.7,260.0"/>
<path d="M527.0,261.8 525.2,260.3 521.7,262.2 521.0,267.5 521.7,272.7 520.2,279.5 518.7,285.5 517.2,291.5 518.0,296.7 519.5,300.5 521.0,302.7 517.2,305.0 515.0,308.0 512.7,311.7 509.7,314.7 508.2,313.2 510.5,310.2 509.7,308.0 511.2,304.2 509.0,303.5 507.5,306.5 506.0,308.7 506.7,311.7 503.7,311.0 501.5,309.5 499.2,311.7 500.0,314.7 497.7,317.0 497.7,319.2 496.2,320.0 494.7,317.7 495.5,314.0 493.2,313.2 491.0,314.7 490.2,317.7 488.0,320.0 483.5,320.0 479.0,319.2 475.2,320.7 473.7,319.2 472.2,316.2 471.5,314.0 470.0,316.2 469.2,319.2 470.7,322.2 472.2,325.2 470.0,327.5 467.0,329.0 464.7,332.0 462.5,335.7 459.5,338.7 455.7,337.2 452.7,335.0 449.0,335.7 446.0,333.5 448.2,330.5 450.5,329.7 449.0,326.7 451.2,324.5 454.2,323.0 453.5,320.0 449.7,320.0 446.0,319.2 443.0,320.0 440.0,319.2"/>
<path d="M503.5,260.0 505.0,257.0 507.2,251.0 508.0,245.0 507.2,240.5 505.0,238.7 508.0,236.7 507.2,231.5 505.7,227.0"/>
<path d="M524.8,225.5 526.0,228.5 529.0,233.7 530.5,239.0 532.0,243.5 530.5,248.0 528.2,251.7 526.7,255.5 526.0,260.0 526.7,262.2 523.0,263.0 521.5,266.0"/>
<path d="M521.0,175.0 519.5,178.0 518.5,181.0 520.0,184.0 519.5,186.5 517.0,188.5 514.5,187.0 512.0,188.0 510.0,186.5 508.5,187.5 509.0,189.5 510.5,191.5 509.0,193.5 506.5,194.5 504.0,196.5 502.8,199.5 503.5,202.0 505.0,205.0 505.5,209.0 506.0,212.5 506.5,215.5 508.5,215.0 510.0,213.0 512.5,211.0 514.5,210.0 517.5,210.5 519.5,209.5 518.0,207.5 516.0,206.0 513.0,205.0 510.5,204.0 509.0,202.5 509.0,200.0 511.0,198.5 513.5,199.0 515.5,200.5 517.0,201.5 520.0,198.5 523.0,196.2 527.0,197.2 532.0,199.5 537.0,202.0 542.0,205.0 543.0,201.0 544.0,196.5 546.5,193.0 550.0,190.0 554.0,188.0 558.0,186.5 560.0,185.5"/>
<path d="M505.5,235.0 506.2,231.0 505.8,227.0 506.5,223.0 508.5,220.0 510.0,218.5 512.0,219.0 513.5,221.5 514.5,224.5 516.5,224.0 516.0,221.0 516.5,217.0 516.0,214.0 518.0,213.5 519.5,215.0 521.0,217.0 520.0,220.0 518.5,222.0 519.5,223.5 521.5,222.0 522.0,219.0 522.5,215.0 523.2,217.0 523.5,221.0 524.0,225.0 526.0,229.0 528.0,232.5 529.5,235.0"/>
<path d="M520.5,153.5 520.0,156.0 521.0,159.0 522.5,162.0 523.0,165.0 522.5,168.0 521.5,171.0 521.0,174.0 521.0,175.0"/>
<path d="M520.5,153.5 522.5,152.2 524.5,154.0 527.0,157.0 530.0,160.0 533.0,163.0 536.0,165.5 539.0,168.0 542.0,170.0 545.0,171.0 548.0,170.5 550.0,171.5 552.0,173.0 555.0,172.5 557.5,171.0 560.0,168.5"/>
<path d="M530.0,160.0 534.0,163.5 539.0,167.5 543.0,170.0 547.0,171.5 550.0,172.5 551.5,171.0 554.5,173.0 558.0,171.5 560.0,169.0 562.0,166.5 560.5,170.0 561.0,174.0 563.0,177.0 564.5,178.5 567.0,180.0 569.0,179.5 567.5,181.5 565.5,183.5 563.0,184.5 560.0,186.0 558.0,187.5 555.0,188.5 551.0,189.0 548.0,191.0 546.0,194.0 544.0,197.0 543.0,201.0 542.0,205.0"/>
<path d="M563.5,174.5 565.5,171.0 568.5,166.5 570.5,162.8 575.0,162.8 572.0,166.5 569.0,170.0 566.5,173.5 564.5,175.5Z"/>
<path d="M577.8,161.5 580.5,157.7 583.5,154.0 586.5,151.3 588.8,149.0 591.0,147.4 594.0,145.8 595.5,144.5"/>
<path d="M596.8,147.0 593.6,149.5 590.8,151.6 588.8,154.2 586.8,156.8 583.8,159.8 580.5,162.2 577.8,161.5"/>
<path stroke-width="2.6" d="M533.7,130.2 537.7,131.7"/>
<path stroke-width="1.8" d="M343.7,301.0 341.8,304.7 340.0,307.7 340.6,311.5 339.4,314.5 340.4,318.2 341.5,320.5"/>
<path stroke-width="2.1" d="M340.7,283.0 343.7,281.2 346.0,282.2 343.3,284.8 341.5,283.3"/>
<path stroke-width="1.7" d="M347.5,279.2 348.7,275.5 349.3,272.5 347.5,271.0"/>
<path stroke-width="1.7" d="M346.7,294.2 345.7,298.0 343.9,300.7"/>
<path stroke-width="1.8" d="M324.2,260.5 328.7,263.2 332.5,266.8 336.2,265.0 340.0,264.7 346.0,266.5"/>
<path stroke-width="1.9" d="M344.5,318.4 348.2,318.7 352.0,317.2 355.0,316.0"/>
<path stroke-width="3.6" d="M347.8,447.3 349.7,443.7 353.5,440.7 356.8,437.7"/>
<ellipse cx="340.7" cy="335.5" rx="5.2" ry="2.2" transform="rotate(-12 340.7 335.5)"/></g>
<g id="grid" fill="none" stroke="#000" stroke-width="1.4" stroke-dasharray="1.39,1.39">
<path d="M35.7,421.3 L43.2,423.1 L50.7,424.7 L58.1,426.4 L65.6,428.0 L73.0,429.6 L80.4,431.1 L87.8,432.6 L95.1,434.1 L102.5,435.5 L109.8,436.9 L117.1,438.3 L124.4,439.6 L131.7,440.9 L139.0,442.1 L146.3,443.4 L153.5,444.5 L160.7,445.7 L167.9,446.8 L175.1,447.9 L182.3,449.0 L189.5,450.0 L196.6,451.0 L203.8,451.9 L210.9,452.9 L218.0,453.8 L225.1,454.7 L232.2,455.5 L239.3,456.3 L246.4,457.1 L253.5,457.9 L260.5,458.6 L267.6,459.3 L274.6,459.9 L281.6,460.6 L288.7,461.2 L295.7,461.8 L302.7,462.4 L309.7,462.9 L316.7,463.4 L323.7,463.9 L330.6,464.3 L337.6,464.8 L344.6,465.2 L351.5,465.5 L358.5,465.9 L365.5,466.2 L372.4,466.5 L379.4,466.8 L386.3,467.0 L393.2,467.2 L400.2,467.4 L407.1,467.6 L414.1,467.7 L421.0,467.8 L427.9,467.9 L434.8,468.0 L441.8,468.0 L448.7,468.0 L455.6,468.0 L462.6,468.0 L469.5,467.9 L476.4,467.8 L483.3,467.7 L490.3,467.6 L497.2,467.4 L504.2,467.2 L511.1,467.0 L518.0,466.8 L525.0,466.5 L531.9,466.2 L538.9,465.9 L545.9,465.5 L552.8,465.2 L559.8,464.8 L566.8,464.3 L573.7,463.9 L580.7,463.4 L587.7,462.9 L594.7,462.4 L601.7,461.8 L608.7,461.2 L615.8,460.6 L622.8,459.9 L629.8,459.3 L636.9,458.6 L643.9,457.9 L651.0,457.1 L658.1,456.3 L665.2,455.5 L672.3,454.7 L679.4,453.8 L686.5,452.9 L693.6,451.9 L700.8,451.0 L707.9,450.0 L715.1,449.0 L722.3,447.9 L729.5,446.8 L736.7,445.7 L743.9,444.5"/>
<path d="M56.7,339.5 L63.7,341.4 L70.7,343.3 L77.7,345.2 L84.7,347.0 L91.7,348.7 L98.6,350.4 L105.6,352.1 L112.5,353.7 L119.4,355.3 L126.3,356.9 L133.2,358.4 L140.1,359.8 L147.0,361.3 L153.9,362.7 L160.7,364.1 L167.6,365.4 L174.4,366.7 L181.2,367.9 L188.0,369.1 L194.8,370.3 L201.6,371.5 L208.4,372.6 L215.2,373.7 L222.0,374.7 L228.7,375.7 L235.5,376.7 L242.2,377.7 L249.0,378.6 L255.7,379.5 L262.4,380.3 L269.1,381.1 L275.8,381.9 L282.5,382.7 L289.2,383.4 L295.9,384.1 L302.6,384.8 L309.3,385.4 L316.0,386.0 L322.6,386.6 L329.3,387.1 L335.9,387.6 L342.6,388.1 L349.3,388.6 L355.9,389.0 L362.5,389.4 L369.2,389.7 L375.8,390.1 L382.5,390.4 L389.1,390.6 L395.7,390.9 L402.3,391.1 L409.0,391.3 L415.6,391.4 L422.2,391.6 L428.8,391.7 L435.5,391.8 L442.1,391.8 L448.7,391.8 L455.3,391.8 L461.9,391.8 L468.6,391.7 L475.2,391.6 L481.8,391.4 L488.4,391.3 L495.1,391.1 L501.7,390.9 L508.3,390.6 L514.9,390.4 L521.6,390.1 L528.2,389.7 L534.9,389.4 L541.5,389.0 L548.1,388.6 L554.8,388.1 L561.5,387.6 L568.1,387.1 L574.8,386.6 L581.4,386.0 L588.1,385.4 L594.8,384.8 L601.5,384.1 L608.2,383.4 L614.9,382.7 L621.6,381.9 L628.3,381.1 L635.0,380.3 L641.7,379.5 L648.4,378.6 L655.2,377.7 L661.9,376.7 L668.7,375.7 L675.4,374.7 L682.2,373.7 L689.0,372.6 L695.8,371.5 L702.6,370.3 L709.4,369.1 L716.2,367.9 L723.0,366.7 L729.8,365.4"/>
<path d="M80.6,259.5 L87.1,261.5 L93.6,263.5 L100.0,265.5 L106.5,267.4 L113.0,269.2 L119.5,271.1 L125.9,272.8 L132.4,274.6 L138.8,276.3 L145.3,277.9 L151.7,279.6 L158.1,281.1 L164.5,282.7 L170.9,284.2 L177.3,285.6 L183.7,287.1 L190.1,288.4 L196.5,289.8 L202.9,291.1 L209.3,292.4 L215.7,293.6 L222.0,294.8 L228.4,296.0 L234.7,297.1 L241.1,298.2 L247.4,299.3 L253.8,300.3 L260.1,301.3 L266.4,302.2 L272.8,303.1 L279.1,304.0 L285.4,304.9 L291.7,305.7 L298.0,306.5 L304.3,307.2 L310.6,307.9 L316.9,308.6 L323.2,309.3 L329.5,309.9 L335.8,310.5 L342.1,311.0 L348.4,311.6 L354.7,312.1 L361.0,312.5 L367.2,312.9 L373.5,313.3 L379.8,313.7 L386.1,314.0 L392.3,314.3 L398.6,314.6 L404.9,314.8 L411.1,315.0 L417.4,315.2 L423.7,315.3 L429.9,315.4 L436.2,315.5 L442.4,315.6 L448.7,315.6 L455.0,315.6 L461.2,315.5 L467.5,315.4 L473.7,315.3 L480.0,315.2 L486.3,315.0 L492.5,314.8 L498.8,314.6 L505.1,314.3 L511.3,314.0 L517.6,313.7 L523.9,313.3 L530.2,312.9 L536.4,312.5 L542.7,312.1 L549.0,311.6 L555.3,311.0 L561.6,310.5 L567.9,309.9 L574.2,309.3 L580.5,308.6 L586.8,307.9 L593.1,307.2 L599.4,306.5 L605.7,305.7 L612.0,304.9 L618.3,304.0 L624.6,303.1 L631.0,302.2 L637.3,301.3 L643.6,300.3 L650.0,299.3 L656.3,298.2 L662.7,297.1 L669.0,296.0 L675.4,294.8 L681.7,293.6 L688.1,292.4 L694.5,291.1 L700.9,289.8 L707.3,288.4 L713.7,287.1"/>
<path d="M107.0,181.2 L113.0,183.3 L118.9,185.4 L124.9,187.4 L130.8,189.3 L136.7,191.2 L142.7,193.1 L148.6,195.0 L154.5,196.7 L160.4,198.5 L166.4,200.2 L172.3,201.9 L178.2,203.5 L184.1,205.1 L190.1,206.7 L196.0,208.2 L201.9,209.6 L207.8,211.1 L213.7,212.5 L219.6,213.8 L225.5,215.2 L231.4,216.4 L237.3,217.7 L243.2,218.9 L249.1,220.1 L255.0,221.2 L260.9,222.3 L266.8,223.4 L272.7,224.4 L278.6,225.4 L284.5,226.4 L290.3,227.3 L296.2,228.2 L302.1,229.0 L308.0,229.8 L313.9,230.6 L319.7,231.4 L325.6,232.1 L331.5,232.8 L337.3,233.4 L343.2,234.0 L349.1,234.6 L355.0,235.1 L360.8,235.7 L366.7,236.1 L372.5,236.6 L378.4,237.0 L384.3,237.4 L390.1,237.7 L396.0,238.0 L401.8,238.3 L407.7,238.6 L413.6,238.8 L419.4,238.9 L425.3,239.1 L431.1,239.2 L437.0,239.3 L442.8,239.3 L448.7,239.4 L454.6,239.3 L460.4,239.3 L466.3,239.2 L472.1,239.1 L478.0,238.9 L483.8,238.8 L489.7,238.6 L495.6,238.3 L501.4,238.0 L507.3,237.7 L513.1,237.4 L519.0,237.0 L524.9,236.6 L530.7,236.1 L536.6,235.7 L542.4,235.1 L548.3,234.6 L554.2,234.0 L560.1,233.4 L565.9,232.8 L571.8,232.1 L577.7,231.4 L583.5,230.6 L589.4,229.8 L595.3,229.0 L601.2,228.2 L607.1,227.3 L612.9,226.4 L618.8,225.4 L624.7,224.4 L630.6,223.4 L636.5,222.3 L642.4,221.2 L648.3,220.1 L654.2,218.9 L660.1,217.7 L666.0,216.4 L671.9,215.2 L677.8,213.8 L683.7,212.5 L689.6,211.1 L695.5,209.6"/>
<path d="M135.7,104.8 L141.1,106.9 L146.4,108.9 L151.8,110.9 L157.2,112.8 L162.6,114.7 L167.9,116.6 L173.3,118.4 L178.7,120.2 L184.1,122.0 L189.4,123.7 L194.8,125.4 L200.2,127.0 L205.6,128.6 L211.0,130.1 L216.4,131.7 L221.8,133.1 L227.2,134.6 L232.6,136.0 L238.0,137.3 L243.4,138.7 L248.8,140.0 L254.2,141.2 L259.5,142.4 L264.9,143.6 L270.3,144.8 L275.8,145.9 L281.2,147.0 L286.6,148.0 L292.0,149.0 L297.4,150.0 L302.8,150.9 L308.2,151.8 L313.6,152.7 L319.0,153.5 L324.4,154.3 L329.8,155.0 L335.2,155.8 L340.6,156.4 L346.0,157.1 L351.4,157.7 L356.8,158.3 L362.2,158.9 L367.6,159.4 L373.0,159.9 L378.4,160.3 L383.8,160.7 L389.2,161.1 L394.6,161.5 L400.1,161.8 L405.5,162.1 L410.9,162.3 L416.3,162.5 L421.7,162.7 L427.1,162.9 L432.5,163.0 L437.9,163.1 L443.3,163.1 L448.7,163.1 L454.1,163.1 L459.5,163.1 L464.9,163.0 L470.3,162.9 L475.7,162.7 L481.1,162.5 L486.5,162.3 L491.9,162.1 L497.3,161.8 L502.8,161.5 L508.2,161.1 L513.6,160.7 L519.0,160.3 L524.4,159.9 L529.8,159.4 L535.2,158.9 L540.6,158.3 L546.0,157.7 L551.4,157.1 L556.8,156.4 L562.2,155.8 L567.6,155.0 L573.0,154.3 L578.4,153.5 L583.8,152.7 L589.2,151.8 L594.6,150.9 L600.0,150.0 L605.4,149.0 L610.8,148.0 L616.2,147.0 L621.6,145.9 L627.1,144.8 L632.5,143.6 L637.9,142.4 L643.2,141.2 L648.6,140.0 L654.0,138.7 L659.4,137.3 L664.8,136.0 L670.2,134.6 L675.6,133.1"/>
<path d="M228.6,565.7 L231.3,534.4 L234.3,503.1 L237.6,471.9 L241.1,440.7 L244.9,409.6 L249.0,378.6 L253.2,347.6 L257.8,316.7 L262.5,285.9 L267.5,255.1 L272.7,224.4 L278.1,193.8 L283.7,163.2 L289.5,132.8 L295.4,102.4 L301.6,72.0 L307.9,41.8"/>
<path d="M302.7,570.8 L304.5,539.9 L306.4,509.1 L308.6,478.3 L310.9,447.5 L313.3,416.7 L316.0,386.0 L318.8,355.3 L321.7,324.6 L324.8,294.0 L328.1,263.3 L331.5,232.8 L335.0,202.2 L338.7,171.7 L342.5,141.2 L346.5,110.7 L350.5,80.3 L354.7,49.9"/>
<path d="M375.9,573.8 L376.8,543.2 L377.8,512.6 L378.8,482.0 L379.9,451.5 L381.2,420.9 L382.5,390.4 L383.8,359.8 L385.3,329.3 L386.8,298.8 L388.4,268.2 L390.1,237.7 L391.9,207.2 L393.7,176.7 L395.6,146.2 L397.6,115.7 L399.6,85.3 L401.7,54.8"/>
<path d="M448.7,574.8 L448.7,544.3 L448.7,513.8 L448.7,483.3 L448.7,452.8 L448.7,422.3 L448.7,391.8 L448.7,361.3 L448.7,330.8 L448.7,300.3 L448.7,269.8 L448.7,239.4 L448.7,208.9 L448.7,178.4 L448.7,147.9 L448.7,117.4 L448.7,86.9 L448.7,56.4"/>
<path d="M521.5,573.8 L520.6,543.2 L519.6,512.6 L518.6,482.0 L517.5,451.5 L516.2,420.9 L514.9,390.4 L513.6,359.8 L512.1,329.3 L510.6,298.8 L509.0,268.2 L507.3,237.7 L505.5,207.2 L503.7,176.7 L501.8,146.2 L499.8,115.7 L497.8,85.3 L495.7,54.8"/>
<path d="M594.7,570.8 L592.9,539.9 L591.0,509.1 L588.8,478.3 L586.5,447.5 L584.1,416.7 L581.4,386.0 L578.6,355.3 L575.7,324.6 L572.6,294.0 L569.3,263.3 L565.9,232.8 L562.4,202.2 L558.7,171.7 L554.9,141.2 L550.9,110.7 L546.9,80.3 L542.7,49.9"/>
</g>
</g>
<rect x="231.6" y="72.3" width="364.69999999999993" height="461.99999999999994" fill="none" stroke="#000" stroke-width="1.3"/>
<rect x="627.4" y="72.3" width="23.1" height="462" fill="url(#cb)" stroke="#000" stroke-width="0.9"/>
<line x1="650.5" x2="655.4" y1="72.3" y2="72.3" stroke="#000" stroke-width="0.9"/><line x1="650.5" x2="655.4" y1="149.3" y2="149.3" stroke="#000" stroke-width="0.9"/><line x1="650.5" x2="655.4" y1="226.3" y2="226.3" stroke="#000" stroke-width="0.9"/><line x1="650.5" x2="655.4" y1="303.3" y2="303.3" stroke="#000" stroke-width="0.9"/><line x1="650.5" x2="655.4" y1="380.3" y2="380.3" stroke="#000" stroke-width="0.9"/><line x1="650.5" x2="655.4" y1="457.3" y2="457.3" stroke="#000" stroke-width="0.9"/><line x1="650.5" x2="655.4" y1="534.3" y2="534.3" stroke="#000" stroke-width="0.9"/>
<text x="411.7" y="46.0" font-size="16.80" text-anchor="middle" textLength="174.6" lengthAdjust="spacingAndGlyphs" >14:55:00 2025/12/14</text>
<text x="414.0" y="64.0" font-size="16.80" text-anchor="middle" textLength="259.1" lengthAdjust="spacingAndGlyphs" >EL_mask: 30, Mapping: 100 km</text>
<text x="226.2" y="139.0" font-size="14.00" text-anchor="end" textLength="33.0" lengthAdjust="spacingAndGlyphs" >45°N</text>
<text x="226.2" y="220.0" font-size="14.00" text-anchor="end" textLength="33.0" lengthAdjust="spacingAndGlyphs" >40°N</text>
<text x="226.2" y="301.0" font-size="14.00" text-anchor="end" textLength="33.0" lengthAdjust="spacingAndGlyphs" >35°N</text>
<text x="226.2" y="380.0" font-size="14.00" text-anchor="end" textLength="33.0" lengthAdjust="spacingAndGlyphs" >30°N</text>
<text x="226.2" y="459.5" font-size="14.00" text-anchor="end" textLength="33.0" lengthAdjust="spacingAndGlyphs" >25°N</text>
<text x="232.3" y="551.2" font-size="14.00" text-anchor="middle" textLength="39.6" lengthAdjust="spacingAndGlyphs" >120°E</text>
<text x="304.7" y="551.2" font-size="14.00" text-anchor="middle" textLength="39.6" lengthAdjust="spacingAndGlyphs" >125°E</text>
<text x="377.4" y="551.2" font-size="14.00" text-anchor="middle" textLength="39.6" lengthAdjust="spacingAndGlyphs" >130°E</text>
<text x="449.1" y="551.2" font-size="14.00" text-anchor="middle" textLength="39.6" lengthAdjust="spacingAndGlyphs" >135°E</text>
<text x="520.3" y="551.2" font-size="14.00" text-anchor="middle" textLength="39.6" lengthAdjust="spacingAndGlyphs" >140°E</text>
<text x="592.7" y="551.2" font-size="14.00" text-anchor="middle" textLength="39.6" lengthAdjust="spacingAndGlyphs" >145°E</text>
<text x="661.5" y="77.6" font-size="14.00" text-anchor="start" textLength="28.8" lengthAdjust="spacingAndGlyphs" >0.30</text>
<text x="661.5" y="154.6" font-size="14.00" text-anchor="start" textLength="28.8" lengthAdjust="spacingAndGlyphs" >0.25</text>
<text x="661.5" y="231.6" font-size="14.00" text-anchor="start" textLength="28.8" lengthAdjust="spacingAndGlyphs" >0.20</text>
<text x="661.5" y="308.6" font-size="14.00" text-anchor="start" textLength="28.8" lengthAdjust="spacingAndGlyphs" >0.15</text>
<text x="661.5" y="385.6" font-size="14.00" text-anchor="start" textLength="28.8" lengthAdjust="spacingAndGlyphs" >0.10</text>
<text x="661.5" y="462.6" font-size="14.00" text-anchor="start" textLength="28.8" lengthAdjust="spacingAndGlyphs" >0.05</text>
<text x="661.5" y="539.6" font-size="14.00" text-anchor="start" textLength="28.8" lengthAdjust="spacingAndGlyphs" >0.00</text>
<text transform="translate(708,303.4) rotate(-90)" font-size="14" text-anchor="middle" textLength="116" lengthAdjust="spacingAndGlyphs">ROTI [TECU/min]</text>
</svg>
</body></html>
